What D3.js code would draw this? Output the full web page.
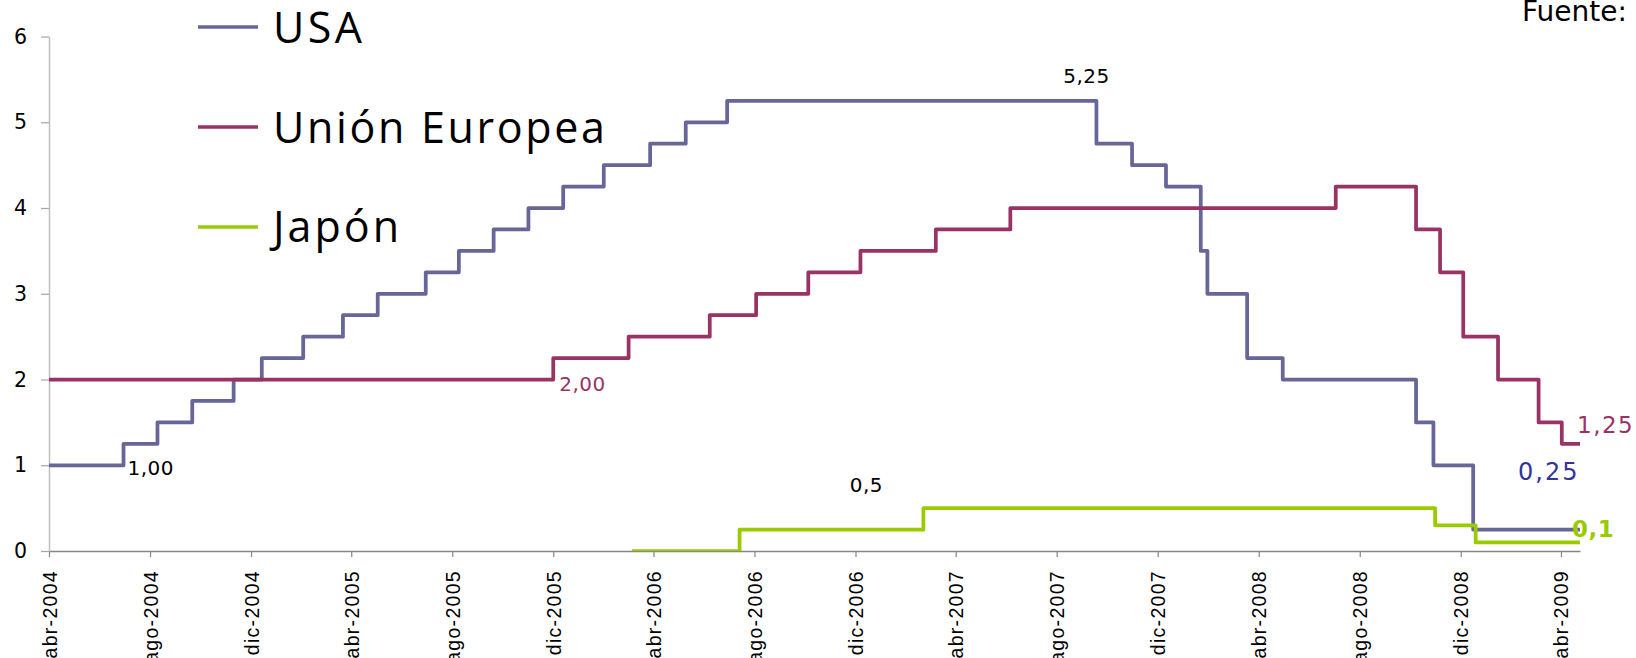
<!DOCTYPE html>
<html>
<head>
<meta charset="utf-8">
<script src="https://cdn.jsdelivr.net/npm/d3@7"></script>
<style>
  html, body { margin: 0; padding: 0; background: #fff; }
  svg { display: block; }
</style>
</head>
<body>
<svg id="chart" width="1636" height="658"></svg>
<script>
// Policy rates (%). Each value holds from its date until the next one;
// the last entry closes the series at the end of the period.
const usaDates = ["2004-04-01","2004-06-30","2004-08-10","2004-09-21","2004-11-10","2004-12-14",
  "2005-02-02","2005-03-22","2005-05-03","2005-06-30","2005-08-09","2005-09-20","2005-11-01",
  "2005-12-13","2006-01-31","2006-03-28","2006-05-10","2006-06-29","2007-09-18","2007-10-31",
  "2007-12-11","2008-01-22","2008-01-30","2008-03-18","2008-04-30","2008-10-08","2008-10-29",
  "2008-12-16","2009-04-24"];
const usaRates = [1.00,1.25,1.50,1.75,2.00,2.25,2.50,2.75,3.00,3.25,3.50,3.75,4.00,4.25,4.50,
  4.75,5.00,5.25,4.75,4.50,4.25,3.50,3.00,2.25,2.00,1.50,1.00,0.25,0.25];

const ueDates = ["2004-04-01","2005-12-01","2006-03-02","2006-06-08","2006-08-03","2006-10-05",
  "2006-12-07","2007-03-08","2007-06-06","2008-07-03","2008-10-08","2008-11-06","2008-12-04",
  "2009-01-15","2009-03-05","2009-04-02","2009-04-24"];
const ueRates = [2.00,2.25,2.50,2.75,3.00,3.25,3.50,3.75,4.00,4.25,3.75,3.25,2.50,2.00,1.50,1.25,1.25];

const japonDates = ["2006-03-06","2006-07-14","2007-02-21","2008-10-31","2008-12-19","2009-04-24"];
const japonRates = [0.00,0.25,0.50,0.30,0.10,0.10];

const seriesNames = ["USA", "Unión Europea", "Japón"];
const tickLabels = ["abr-2004","ago-2004","dic-2004","abr-2005","ago-2005","dic-2005","abr-2006",
  "ago-2006","dic-2006","abr-2007","ago-2007","dic-2007","abr-2008","ago-2008","dic-2008","abr-2009"];
const yTicks = [0, 1, 2, 3, 4, 5, 6];
const periodStart = "2004-04-01";
const periodEnd = "2009-04-24";

// ---- styling ----
const colors = { usa: "#666699", ue: "#993366", japon: "#99CC00", usaLabel: "#333399" };

const parseDay = d3.timeParse("%Y-%m-%d");
const es = d3.timeFormatLocale({
  dateTime: "%A, %e de %B de %Y, %X", date: "%d/%m/%Y", time: "%H:%M:%S", periods: ["AM", "PM"],
  days: ["domingo","lunes","martes","miércoles","jueves","viernes","sábado"],
  shortDays: ["dom","lun","mar","mié","jue","vie","sáb"],
  months: ["enero","febrero","marzo","abril","mayo","junio","julio","agosto","septiembre","octubre","noviembre","diciembre"],
  shortMonths: ["ene","feb","mar","abr","may","jun","jul","ago","sep","oct","nov","dic"]
});
const fmtTick = es.format("%b-%Y");
const parseTick = es.parse("%b-%Y");
const numEs = d3.formatLocale({ decimal: ",", thousands: ".", grouping: [3], currency: ["", " €"] });

const svg = d3.select("#chart");
svg.append("rect").attr("width", 1636).attr("height", 658).attr("fill", "#fff");

const x = d3.scaleTime()
  .domain([parseDay(periodStart), parseDay(periodEnd)])
  .range([49, 1580]);
const y = d3.scaleLinear().domain([0, 6]).range([551, 36.5]);

// ---- axes ----
const xAxis = svg.append("g")
  .attr("transform", `translate(0,${y(0)})`)
  .call(d3.axisBottom(x)
    .tickValues(tickLabels.map(parseTick))
    .tickFormat(fmtTick)
    .tickSize(6)
    .tickSizeOuter(0));
xAxis.select(".domain").attr("stroke", "#868686").attr("stroke-width", 1.3);
xAxis.selectAll(".tick line").attr("stroke", "#868686").attr("stroke-width", 1.2);
xAxis.selectAll(".tick text")
  .attr("transform", "rotate(-90)")
  .attr("x", -19).attr("y", 0).attr("dy", "0.36em")
  .style("text-anchor", "end")
  .style("font-family", "'Liberation Sans', Arial, sans-serif")
  .style("font-size", "19.5px")
  .style("letter-spacing", "1.3px")
  .attr("fill", "#000");

const yAxis = svg.append("g")
  .attr("transform", "translate(49,0)")
  .call(d3.axisLeft(y)
    .tickValues(yTicks)
    .tickFormat(d3.format("d"))
    .tickSize(8)
    .tickSizeOuter(0)
    .tickPadding(14));
yAxis.select(".domain").attr("stroke", "#BFBFBF").attr("stroke-width", 1.5);
yAxis.selectAll(".tick line").attr("stroke", "#A6A6A6").attr("stroke-width", 1.2);
yAxis.selectAll(".tick text")
  .style("font-family", "'DejaVu Sans', Verdana, sans-serif")
  .style("font-size", "20.5px")
  .attr("fill", "#000");

// ---- series ----
svg.append("clipPath").attr("id", "plotClip")
  .append("rect").attr("x", 0).attr("y", 0).attr("width", 1636).attr("height", y(0));

const toPoints = (dates, values) => dates.map((d, i) => ({ date: parseDay(d), value: values[i] }));
const series = [
  { name: seriesNames[0], color: colors.usa, points: toPoints(usaDates, usaRates) },
  { name: seriesNames[1], color: colors.ue, points: toPoints(ueDates, ueRates) },
  { name: seriesNames[2], color: colors.japon, points: toPoints(japonDates, japonRates) }
];

const line = d3.line()
  .x(d => x(d.date))
  .y(d => y(d.value))
  .curve(d3.curveStepAfter);

svg.append("g").attr("clip-path", "url(#plotClip)")
  .selectAll("path")
  .data(series)
  .join("path")
  .attr("d", d => line(d.points))
  .attr("fill", "none")
  .attr("stroke", d => d.color)
  .attr("stroke-width", 3.75)
  .attr("stroke-linejoin", "round");

// ---- legend ----
const legendTextWidths = [89, 332, 126];
const legend = svg.append("g");
series.forEach((s, i) => {
  legend.append("line")
    .attr("x1", 198).attr("x2", 258)
    .attr("y1", 27 + i * 100).attr("y2", 27 + i * 100)
    .attr("stroke", s.color).attr("stroke-width", 3.5);
  legend.append("text")
    .attr("x", 273).attr("y", 43 + i * 99.5)
    .attr("textLength", legendTextWidths[i])
    .attr("lengthAdjust", "spacing")
    .style("font-family", "'Open Sans', 'Noto Sans', sans-serif")
    .style("font-size", "43px")
    .attr("fill", "#000")
    .text(s.name);
});

// ---- value labels ----
const usaPts = series[0].points, uePts = series[1].points, jpPts = series[2].points;
const f2 = numEs.format(".2f"), f1 = numEs.format(".1f");
const labels = [
  { text: f2(usaPts[0].value), px: x(usaPts[1].date) + 4, py: y(usaPts[0].value) + 10,
    anchor: "start", size: 20, ls: 0.5, color: "#000", weight: "normal" },
  { text: f2(uePts[0].value), px: x(uePts[1].date) + 6, py: y(uePts[0].value) + 11,
    anchor: "start", size: 20, ls: 0.5, color: colors.ue, weight: "normal" },
  { text: f2(usaPts[17].value), px: x(usaPts[18].date) - 10, py: y(usaPts[17].value) - 18,
    anchor: "middle", size: 20, ls: 0.5, color: "#000", weight: "normal" },
  { text: f1(jpPts[2].value), px: x(jpPts[2].date) - 57, py: y(jpPts[2].value) - 16,
    anchor: "middle", size: 20, ls: 0.5, color: "#000", weight: "normal" },
  { text: f2(uePts[uePts.length - 1].value), px: x(uePts[uePts.length - 1].date) - 3,
    py: y(uePts[uePts.length - 1].value) - 11,
    anchor: "start", size: 23, ls: 1.5, color: colors.ue, weight: "normal" },
  { text: f2(usaPts[usaPts.length - 1].value), px: x(usaPts[usaPts.length - 1].date) - 62,
    py: y(usaPts[usaPts.length - 1].value) - 50,
    anchor: "start", size: 24, ls: 2, color: colors.usaLabel, weight: "normal" },
  { text: f1(jpPts[jpPts.length - 1].value), px: x(jpPts[jpPts.length - 1].date) - 8,
    py: y(jpPts[jpPts.length - 1].value) - 5,
    anchor: "start", size: 23, ls: 0.5, color: colors.japon, weight: "bold" }
];
svg.append("g").selectAll("text")
  .data(labels)
  .join("text")
  .attr("x", d => d.px).attr("y", d => d.py)
  .attr("text-anchor", d => d.anchor)
  .style("font-family", "'DejaVu Sans', Verdana, sans-serif")
  .style("font-size", d => d.size + "px")
  .style("letter-spacing", d => d.ls + "px")
  .style("font-weight", d => d.weight)
  .attr("fill", d => d.color)
  .text(d => d.text);

// ---- source note ----
svg.append("text")
  .attr("x", 1522).attr("y", 21)
  .style("font-family", "'DejaVu Sans', Verdana, sans-serif")
  .style("font-size", "28px")
  .attr("fill", "#000")
  .text("Fuente:");
</script>
</body>
</html>
